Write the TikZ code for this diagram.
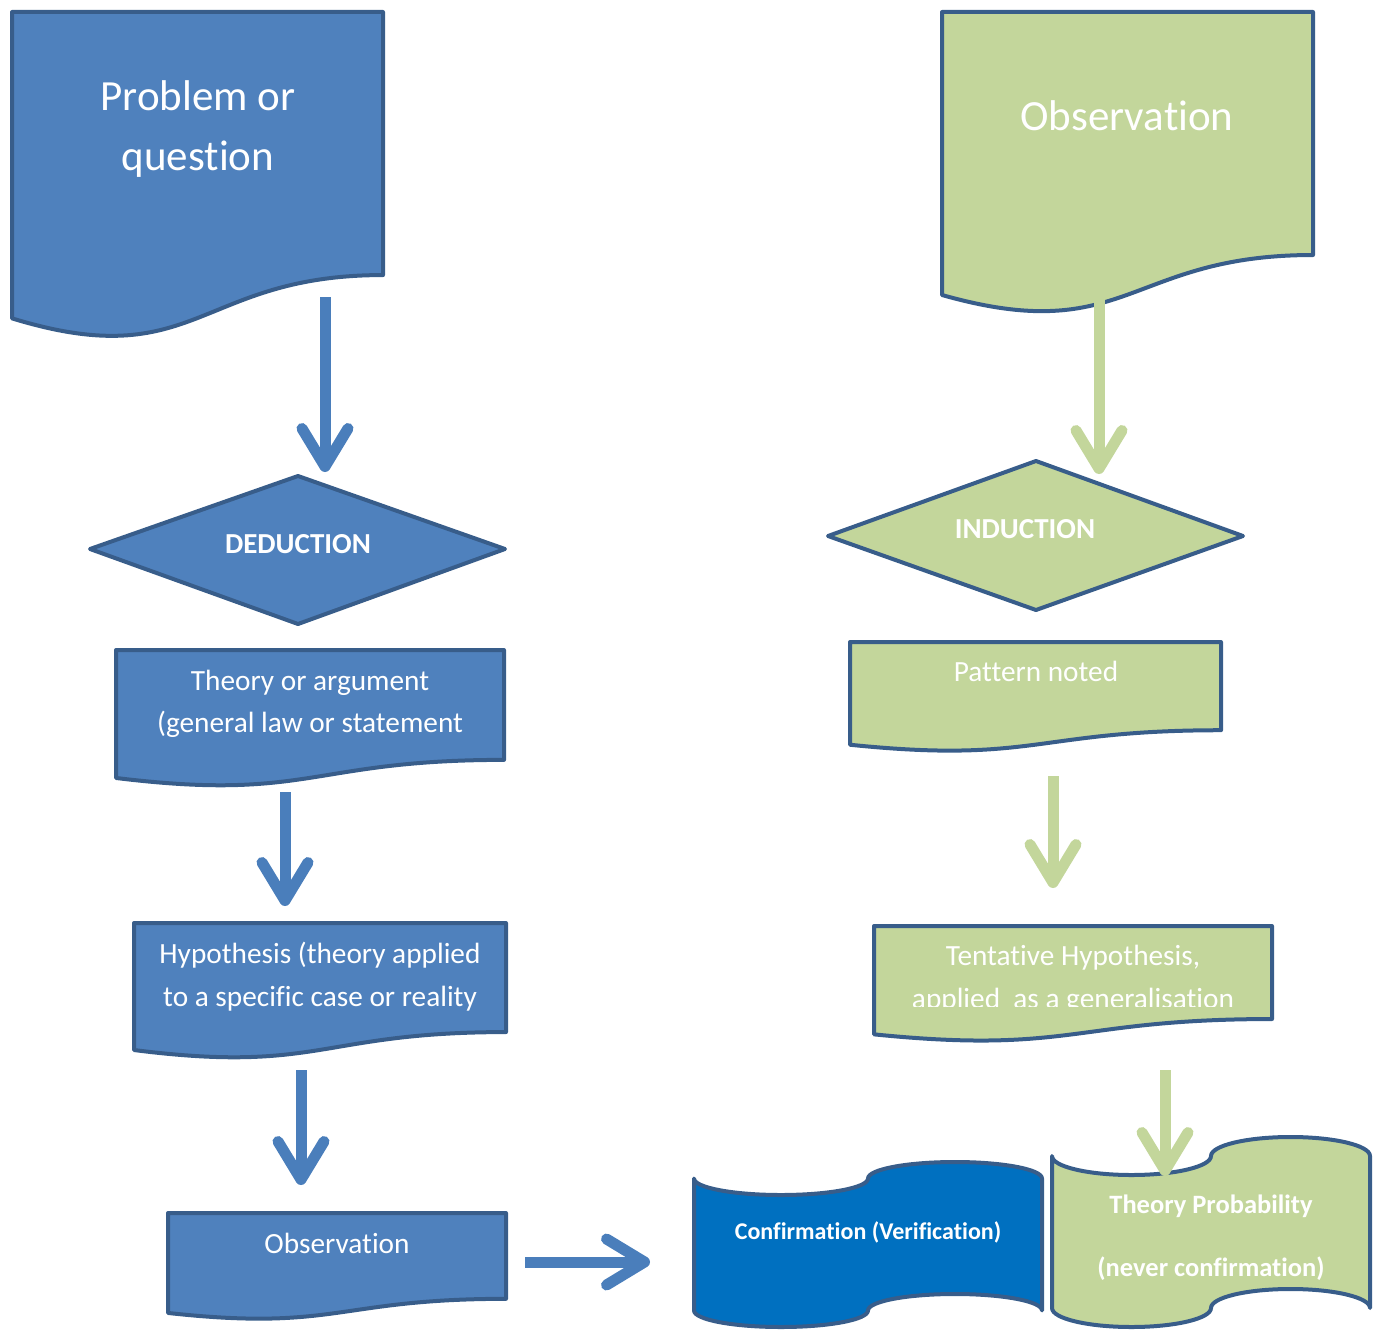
\documentclass[tikz,border=0pt]{standalone}
\usepackage{fontspec}
\setmainfont{Carlito}[Ligatures=NoCommon]
\usetikzlibrary{arrows.meta}

\definecolor{boxblue}{HTML}{4F81BD}
\definecolor{edgeblue}{HTML}{385D8A}
\definecolor{arrowblue}{HTML}{4A7EBB}
\definecolor{boxgreen}{HTML}{C3D69B}
\definecolor{confblue}{HTML}{0070C0}

\tikzset{
  shapeline/.style={draw=edgeblue,line width=4pt,line join=round},
  flow/.style={line width=11pt,-{Straight Barb[length=38pt,width=46pt,round]}},
  txt/.style={text=white,anchor=base,inner sep=0pt},
  bigtxt/.style={txt,font=\fontsize{43}{50}\selectfont},
  midtxt/.style={txt,font=\fontsize{29.3}{34}\selectfont},
  boldtxt/.style={txt,font=\fontsize{29}{34}\selectfont\bfseries},
  smalltxt/.style={txt,font=\fontsize{24}{28}\selectfont\bfseries},
}

% document box: x, y, width, height, fill
\newcommand{\docbox}[5]{%
  \draw[shapeline,fill=#5] (#1,#2) -- ({#1+#3},#2) -- ({#1+#3},{#2+0.802*#4})
    .. controls ({#1+#3/2},{#2+0.802*#4}) and ({#1+#3/2},{#2+1.1075*#4})
    .. (#1,{#2+0.934*#4}) -- cycle;}

% punched tape: x, y, width, height, fill
\newcommand{\tapebox}[5]{%
  \draw[shapeline,fill=#5] (#1,{#2+0.1*#4})
    arc[start angle=180,end angle=0,x radius={#3/4},y radius={0.1*#4}]
    arc[start angle=180,end angle=360,x radius={#3/4},y radius={0.1*#4}]
    -- ({#1+#3},{#2+0.9*#4})
    arc[start angle=0,end angle=-180,x radius={#3/4},y radius={0.1*#4}]
    arc[start angle=0,end angle=180,x radius={#3/4},y radius={0.1*#4}]
    -- cycle;}

\begin{document}
\begin{tikzpicture}[x=1pt,y=-1pt]
  \useasboundingbox (0,0) rectangle (1381,1330);

  % deduction column
  \docbox{12}{12}{371}{328}{boxblue}
  \node[bigtxt] (probA) at (198,110) {Problem or};
  \node[bigtxt] (probB) at (198,170) {question};

  \draw[shapeline,fill=boxblue] (90,549) -- (298,476) -- (505,549) -- (298,624) -- cycle;
  \node[boldtxt] (deduct) at (298,553) {DEDUCTION};

  \docbox{116}{650}{388}{137}{boxblue}
  \node[midtxt] (theoryA) at (310,690) {Theory or argument};
  \node[midtxt] (theoryB) at (310,732) {(general law or statement};

  \docbox{134}{923}{372}{136}{boxblue}
  \node[midtxt] (hypoA) at (320,963) {Hypothesis (theory applied};
  \node[midtxt] (hypoB) at (320,1006) {to a specific case or reality};

  \docbox{168}{1213}{338}{107}{boxblue}
  \node[midtxt] (obsB) at (337,1253) {Observation};

  % induction column
  \docbox{942}{12}{371}{303}{boxgreen}
  \node[bigtxt] (obsT) at (1127,130) {Observation};

  \draw[shapeline,fill=boxgreen] (828,536) -- (1036,461) -- (1243,536) -- (1036,610) -- cycle;
  \node[boldtxt] (induct) at (1025,538) {INDUCTION};

  \docbox{850}{642}{371}{110}{boxgreen}
  \node[midtxt] (pattern) at (1036,681) {Pattern noted};

  \docbox{874}{926}{398}{116}{boxgreen}
  \node[midtxt] (tentA) at (1073,965) {Tentative Hypothesis,};
  \begin{scope}
    \clip (874,926) rectangle (1272,1006);
    \node[midtxt] (tentB) at (1073,1008) {applied\ \ as a generalisation};
  \end{scope}

  % outcomes
  \tapebox{694}{1162}{348}{165}{confblue}
  \node[smalltxt] (confirm) at (868,1239) {Confirmation (Verification)};

  \tapebox{1052}{1137}{318}{190}{boxgreen}
  \node[smalltxt,font=\fontsize{26.5}{30}\selectfont\bfseries] (probA2) at (1211,1213) {Theory Probability};
  \node[smalltxt,font=\fontsize{26.5}{30}\selectfont\bfseries] (probB2) at (1211,1276) {(never confirmation)};

  % arrows
  \coordinate (d1s) at (325,297);  \coordinate (d1e) at (325,472);
  \coordinate (d2s) at (285,792);  \coordinate (d2e) at (285,906);
  \coordinate (d3s) at (301,1070); \coordinate (d3e) at (301,1185);
  \coordinate (d4s) at (525,1262); \coordinate (d4e) at (650,1262);
  \coordinate (i1s) at (1099,297); \coordinate (i1e) at (1099,474);
  \coordinate (i2s) at (1053,776); \coordinate (i2e) at (1053,888);
  \coordinate (i3s) at (1165,1070); \coordinate (i3e) at (1165,1176);

  \draw[flow,arrowblue] (d1s) -- (d1e);
  \draw[flow,arrowblue] (d2s) -- (d2e);
  \draw[flow,arrowblue] (d3s) -- (d3e);
  \draw[flow,arrowblue] (d4s) -- (d4e);
  \draw[flow,boxgreen] (i1s) -- (i1e);
  \draw[flow,boxgreen] (i2s) -- (i2e);
  \draw[flow,boxgreen] (i3s) -- (i3e);
\end{tikzpicture}
\end{document}
